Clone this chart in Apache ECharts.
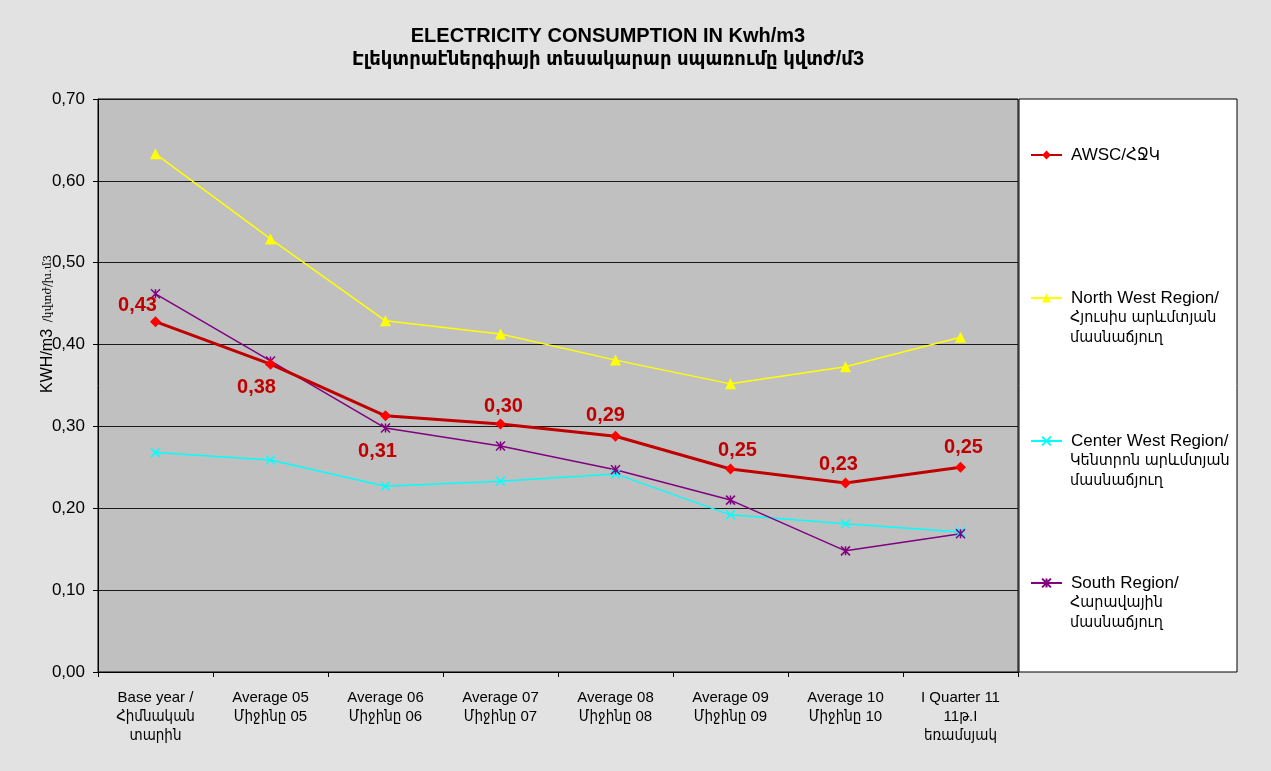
<!DOCTYPE html>
<html>
<head>
<meta charset="utf-8">
<script src="https://cdn.jsdelivr.net/npm/echarts@6/dist/echarts.min.js"></script>
<style>
  html, body { margin: 0; padding: 0; background: #e2e2e2; }
  #main { width: 1271px; height: 771px; }
</style>
</head>
<body>
<div id="main"></div>
<script>
var FONT = "'Liberation Sans', 'DejaVu Sans Condensed', sans-serif";

// data
var categories = [
  'Base year /\nՀիմնական\nտարին',
  'Average 05\nՄիջինը 05',
  'Average 06\nՄիջինը 06',
  'Average 07\nՄիջինը 07',
  'Average 08\nՄիջինը 08',
  'Average 09\nՄիջինը 09',
  'Average 10\nՄիջինը 10',
  'I Quarter 11\n11թ.I\nեռամսյակ'
];
var seriesNames = [
  'AWSC/ՀՋԿ',
  'North West Region/\nՀյուսիս արևմտյան\nմասնաճյուղ',
  'Center West Region/\nԿենտրոն արևմտյան\nմասնաճյուղ',
  'South Region/\nՀարավային\nմասնաճյուղ'
];
var awsc       = [0.428, 0.376, 0.313, 0.303, 0.288, 0.248, 0.231, 0.250];
var northWest  = [0.633, 0.529, 0.429, 0.413, 0.381, 0.352, 0.373, 0.409];
var centerWest = [0.268, 0.259, 0.227, 0.233, 0.242, 0.192, 0.181, 0.171];
var south      = [0.462, 0.380, 0.298, 0.276, 0.247, 0.210, 0.148, 0.169];
var yTicks = [0, 0.1, 0.2, 0.3, 0.4, 0.5, 0.6, 0.7];

// label placement for the AWSC values (position, [dx, dy])
var labelPlace = [
  ['top', [-18, 4]], ['bottom', [-14, 3]], ['bottom', [-8, 15]], ['top', [3, 3]],
  ['top', [-10, 0]], ['top', [7, 2]], ['top', [-7, 2]], ['top', [3, 1]]
];
// legend first-line centres
var legendY = [155, 298, 441, 583];

function fmt(v) { return v.toFixed(2).replace('.', ','); }

var chart = echarts.init(document.getElementById('main'));

var awscData = awsc.map(function (v, i) {
  return {
    value: v,
    label: { position: labelPlace[i][0], offset: labelPlace[i][1] }
  };
});

var legends = seriesNames.map(function (n, i) {
  return {
    data: [n],
    left: 1025,
    top: legendY[i] - 15,
    itemWidth: 31,
    itemHeight: 11,
    selectedMode: false,
    formatter: function (name) { return name.split('\n')[0]; },
    textStyle: {
      fontFamily: FONT, fontSize: 17, color: '#000', lineHeight: 20,
      padding: [0, 0, 0, 4]
    }
  };
});

var graphics = [
  {
    type: 'rect', z: 0,
    shape: { x: 1019, y: 99, width: 218, height: 573 },
    style: { fill: '#fff', stroke: '#000', lineWidth: 1 }
  },
  {
    type: 'text', x: 48, y: 324, rotation: Math.PI / 2,
    style: {
      text: '{a|KWH/m3}  {b|/կվտժ/խ.մ3}',
      align: 'center', verticalAlign: 'middle',
      rich: {
        a: { fontFamily: FONT, fontSize: 16, fill: '#000' },
        b: { fontFamily: "'DejaVu Serif', serif", fontSize: 11, fill: '#000' }
      }
    }
  }
];
// remaining legend lines, one text per line
seriesNames.forEach(function (n, i) {
  n.split('\n').slice(1).forEach(function (line, k) {
    graphics.push({
      type: 'text', x: 1070, y: legendY[i] + 20 * (k + 1), z: 10,
      style: {
        text: line, fill: '#000',
        fontFamily: FONT, fontSize: 16,
        align: 'left', verticalAlign: 'middle'
      }
    });
  });
});

var option = {
  backgroundColor: '#e2e2e2',
  animation: false,
  title: {
    text: 'ELECTRICITY CONSUMPTION IN Kwh/m3\nԷլեկտրաէներգիայի տեսակարար սպառումը կվտժ/մ3',
    left: 608,
    textAlign: 'center',
    top: 25,
    padding: 0,
    textStyle: { fontFamily: FONT, fontSize: 20, fontWeight: 'bold', color: '#000', lineHeight: 23 }
  },
  legend: legends,
  graphic: graphics,
  grid: {
    left: 98, top: 99, right: 253, bottom: 99,
    show: true, backgroundColor: '#c0c0c0', borderColor: '#000', borderWidth: 1
  },
  xAxis: {
    type: 'category',
    data: categories,
    boundaryGap: true,
    axisLine: { lineStyle: { color: '#000', width: 1 } },
    axisTick: { show: true, length: 5, lineStyle: { color: '#000' } },
    axisLabel: {
      interval: 0, margin: 16, color: '#000',
      fontFamily: FONT, fontSize: 15, lineHeight: 19
    }
  },
  yAxis: {
    type: 'value',
    min: yTicks[0], max: yTicks[yTicks.length - 1], interval: 0.1,
    axisLine: { show: true, lineStyle: { color: '#000' } },
    axisTick: { show: true, length: 5, lineStyle: { color: '#000' } },
    splitLine: { lineStyle: { color: '#1a1a1a', width: 1 } },
    axisLabel: {
      formatter: fmt, margin: 13, color: '#000',
      fontFamily: FONT, fontSize: 17
    }
  },
  series: [
    {
      name: seriesNames[0], type: 'line', data: awscData, z: 5,
      symbol: 'diamond', symbolSize: 11,
      lineStyle: { color: '#c00000', width: 3 },
      itemStyle: { color: '#ff0000' },
      label: {
        show: true, formatter: function (p) { return fmt(p.value); },
        color: '#c00000', fontFamily: FONT, fontSize: 20, fontWeight: 'bold'
      }
    },
    {
      name: seriesNames[1], type: 'line', data: northWest,
      symbol: 'triangle', symbolSize: 11,
      lineStyle: { color: '#ffff00', width: 1.5 },
      itemStyle: { color: '#ffff00' }
    },
    {
      name: seriesNames[2], type: 'line', data: centerWest,
      symbol: 'path://M0,0L10,10M10,0L0,10', symbolSize: 9,
      lineStyle: { color: '#00ffff', width: 1.5 },
      itemStyle: { color: '#00ffff', borderColor: '#00ffff', borderWidth: 1.5 }
    },
    {
      name: seriesNames[3], type: 'line', data: south,
      symbol: 'path://M0,0L10,10M10,0L0,10M5,0L5,10', symbolSize: 9,
      lineStyle: { color: '#800080', width: 1.5 },
      itemStyle: { color: '#800080', borderColor: '#800080', borderWidth: 1.5 }
    }
  ]
};

chart.setOption(option);
</script>
</body>
</html>
